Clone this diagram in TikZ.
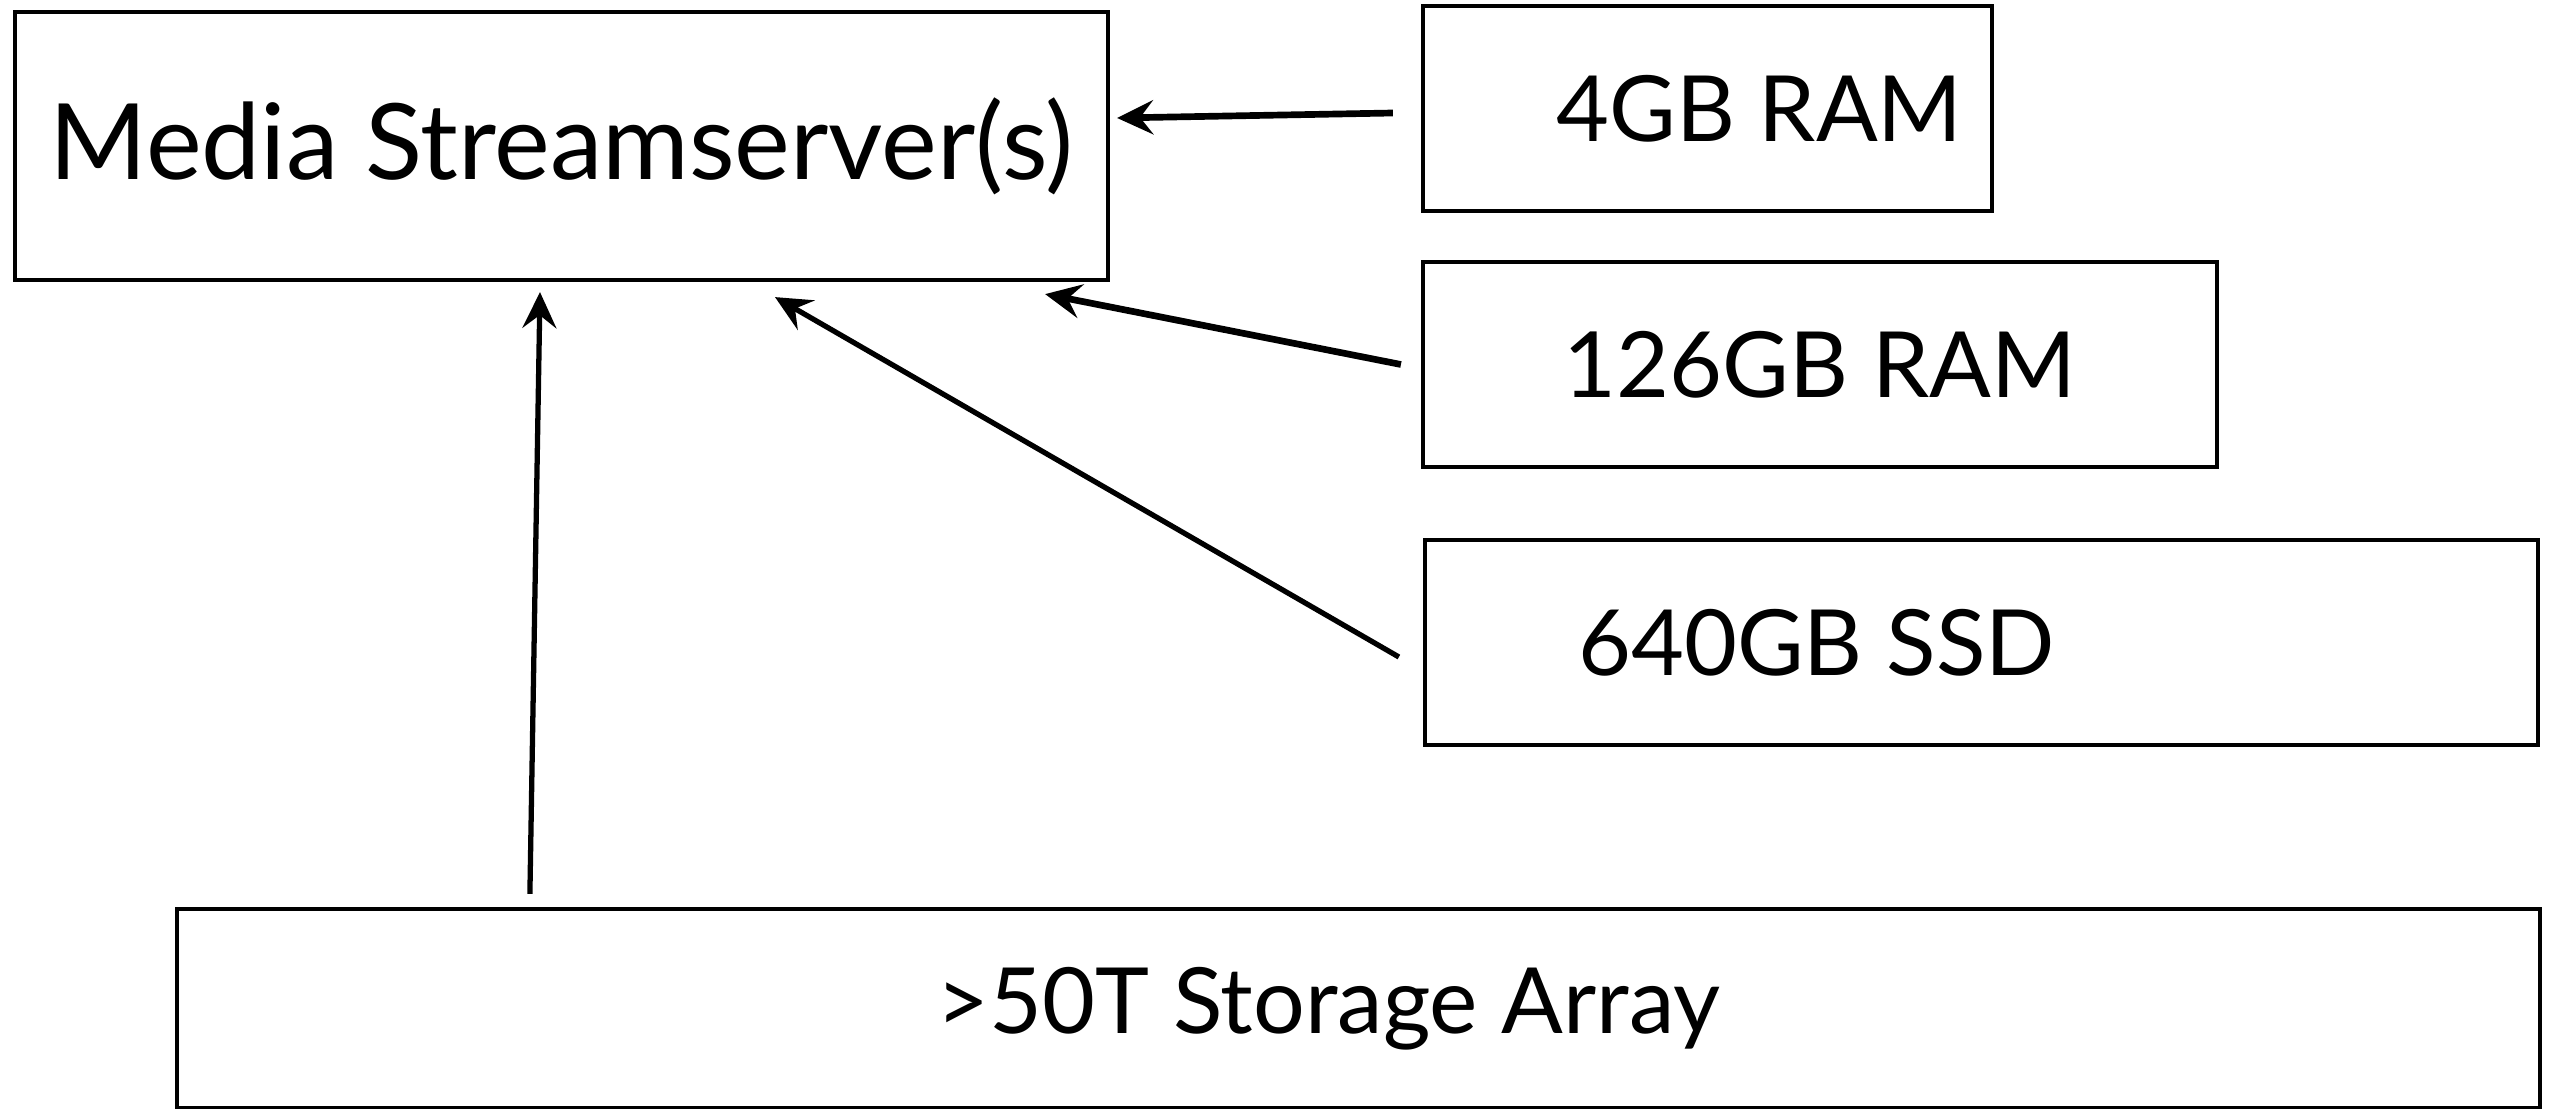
\documentclass[tikz,border=0pt]{standalone}
\usepackage{fontspec}
\setmainfont{Lato}
\usepackage{tikz}
\usetikzlibrary{arrows.meta}

\begin{document}
\begin{tikzpicture}[>={Stealth[length=3.6mm,width=3.4mm,inset=1.3mm]}]
  \tikzstyle{hwbox}=[draw,line width=1.2pt,inner sep=0pt,
    minimum height=20.5mm,font=\fontsize{26}{30}\selectfont]
  \tikzstyle{feed}=[->,line width=1.9pt]
  \useasboundingbox (0,0) rectangle (25.61,-11.09);
  \node[hwbox,minimum width=109.3mm,minimum height=26.8mm,
    font=\fontsize{30}{34}\selectfont] (server) at (5.615,-1.46) {Media Streamserver(s)};
  \node[hwbox,minimum width=56.9mm] (ram4) at (17.075,-1.085) {\hspace*{10.4mm}4GB RAM};
  \node[hwbox,minimum width=79.4mm] (ram126) at (18.2,-3.645) {126GB RAM};
  \node[hwbox,minimum width=111.3mm] (ssd) at (19.815,-6.425) {640GB SSD\hspace*{33mm}};
  \node[hwbox,minimum width=236.3mm,minimum height=19.9mm] (storage) at (13.585,-10.085)
    {>50T Storage Array\hspace*{6mm}};
  \draw[feed] ([xshift=-2.8mm,yshift=-0.45mm]ram4.west)--([xshift=0.7mm,yshift=2.8mm]server.east);
  \draw[feed] ([xshift=-2mm]ram126.west)--([xshift=-6.5mm,yshift=-1.2mm]server.south east);
  \draw[feed,line width=1.5pt] ([xshift=-2.4mm,yshift=-1.45mm]ssd.west)--([xshift=21.35mm,yshift=-1.5mm]server.south);
  \draw[feed,line width=1.5pt] ([xshift=35.5mm,yshift=1.3mm]storage.north west)--([xshift=-2.15mm,yshift=-1mm]server.south);
\end{tikzpicture}
\end{document}
